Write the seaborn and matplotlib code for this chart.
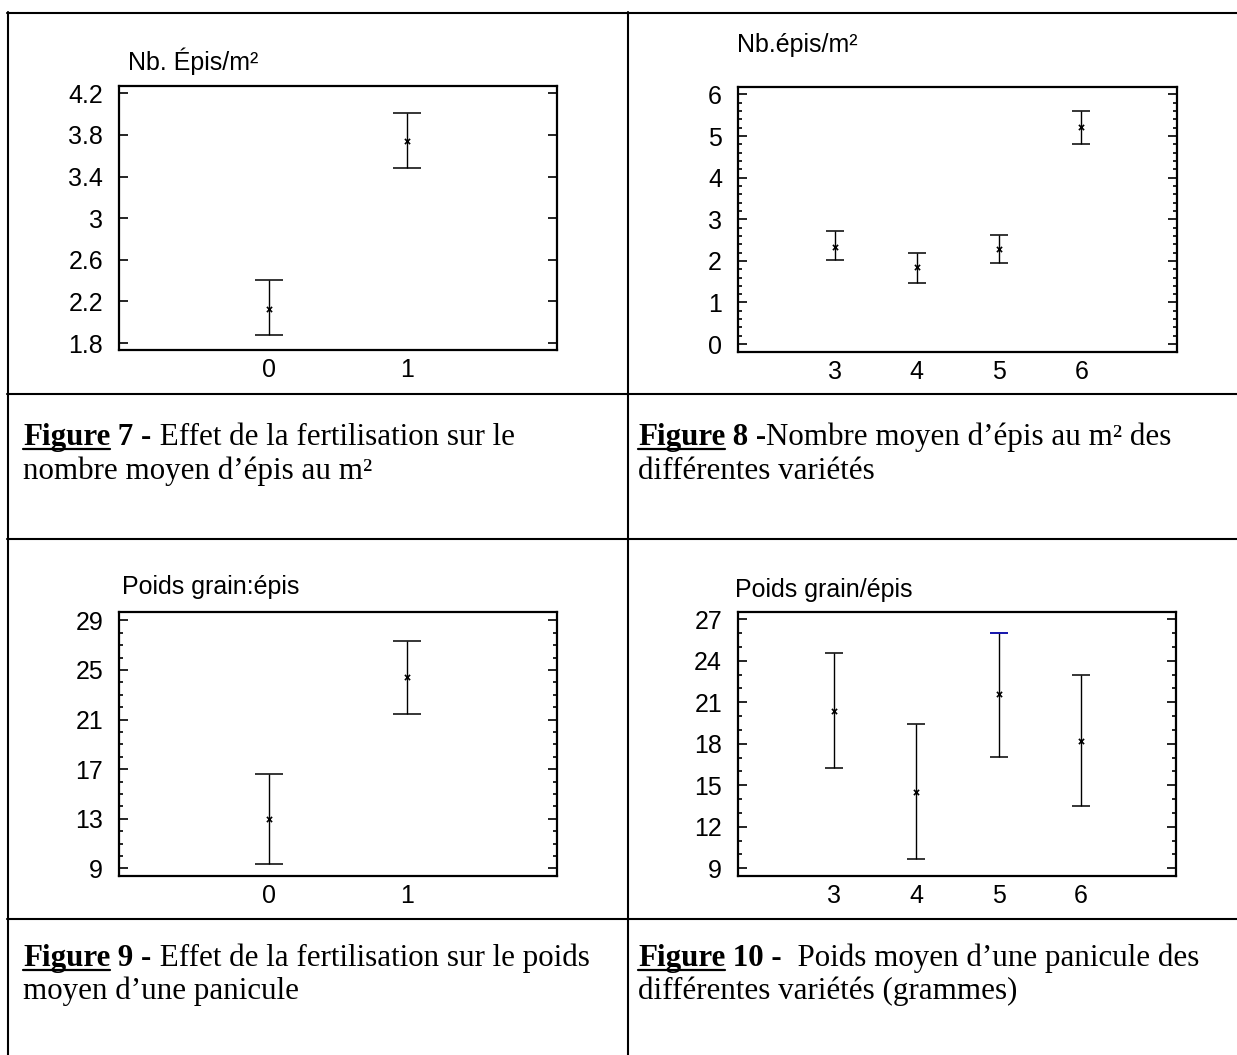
import numpy as np
import pandas as pd
import matplotlib
matplotlib.use("Agg")
import matplotlib.pyplot as plt
import seaborn as sns
from matplotlib.ticker import MultipleLocator
from matplotlib.lines import Line2D

# ---------------- data ----------------
fert_levels = [0, 1]
var_levels = [3, 4, 5, 6]

f7_mean = [2.13, 3.74]
f7_low = [1.88, 3.48]
f7_high = [2.41, 4.01]

f8_mean = [2.34, 1.85, 2.28, 5.21]
f8_low = [2.02, 1.48, 1.94, 4.81]
f8_high = [2.72, 2.20, 2.63, 5.61]

f9_mean = [12.95, 24.44]
f9_low = [9.35, 21.43]
f9_high = [16.57, 27.34]

f10_mean = [20.36, 14.51, 21.57, 18.23]
f10_low = [16.25, 9.68, 17.02, 13.47]
f10_high = [24.58, 19.44, 26.01, 22.97]

f7_yticks = [1.8, 2.2, 2.6, 3.0, 3.4, 3.8, 4.2]
f7_yticklabels = ["1.8", "2.2", "2.6", "3", "3.4", "3.8", "4.2"]
f8_yticks = [0, 1, 2, 3, 4, 5, 6]
f8_yticklabels = ["0", "1", "2", "3", "4", "5", "6"]
f9_yticks = [9, 13, 17, 21, 25, 29]
f9_yticklabels = ["9", "13", "17", "21", "25", "29"]
f10_yticks = [9, 12, 15, 18, 21, 24, 27]
f10_yticklabels = ["9", "12", "15", "18", "21", "24", "27"]

titles = ["Nb. Épis/m²", "Nb.épis/m²", "Poids grain:épis", "Poids grain/épis"]

captions = [
    ([("Figure", True, True), (" 7 -", True, False), (" Effet de la fertilisation sur le", False, False)],
     "nombre moyen d’épis au m²"),
    ([("Figure", True, True), (" 8 -", True, False), ("Nombre moyen d’épis au m² des", False, False)],
     "différentes variétés"),
    ([("Figure", True, True), (" 9 -", True, False), (" Effet de la fertilisation sur le poids", False, False)],
     "moyen d’une panicule"),
    ([("Figure", True, True), (" 10 -", True, False), ("  Poids moyen d’une panicule des", False, False)],
     "différentes variétés (grammes)"),
]

# ---------------- style ----------------
sns.set_theme(style="white")
plt.rcParams["font.family"] = ["Liberation Sans", "DejaVu Sans"]

W, H = 1237, 1055
fig = plt.figure(figsize=(W / 100, H / 100), dpi=100)
fig.patch.set_facecolor("white")

LBL_FS = 18
CAP_FS = 22.3


def rect(l, t, r, b):
    return [l / W, 1 - b / H, (r - l) / W, (b - t) / H]


def fx(x):
    return x / W


def fy(y):
    return 1 - y / H


def panel(rc, x, mean, low, high, xlim, ylim, yticks, yticklabels, minor,
          capsize, title, title_xy, blue_cap=None):
    ax = fig.add_axes(rc)
    df = pd.DataFrame({"x": x, "mean": mean, "low": low, "high": high})
    yerr = np.vstack([df["mean"] - df["low"], df["high"] - df["mean"]])
    ax.errorbar(df["x"], df["mean"], yerr=yerr, fmt="none", ecolor="black",
                elinewidth=1.0, capsize=capsize, capthick=1.1, zorder=2)
    if blue_cap is not None:
        i = blue_cap
        ax.plot([df["x"][i]], [df["high"][i]], marker="_", ms=2 * capsize,
                mew=1.1, color="#1010d0", zorder=3, linestyle="none")
    sns.scatterplot(data=df, x="x", y="mean", ax=ax, marker="x", s=14,
                    color="black", linewidth=1.2, zorder=4, legend=False)
    ax.set_xlim(xlim)
    ax.set_ylim(ylim)
    ax.set_xticks(x)
    ax.set_xticklabels([str(v) for v in x])
    ax.set_yticks(yticks)
    ax.set_yticklabels(yticklabels)
    if minor:
        ax.yaxis.set_minor_locator(MultipleLocator(minor))
    ax.tick_params(axis="y", which="both", direction="in", left=True, right=True,
                   labelsize=LBL_FS, pad=11.5, width=1.2, color="black", labelcolor="black")
    ax.tick_params(axis="y", which="major", length=6.5)
    ax.tick_params(axis="y", which="minor", length=3.2)
    ax.tick_params(axis="x", which="both", length=0, pad=6, labelsize=LBL_FS,
                   labelcolor="black", bottom=False, top=False)
    for s in ax.spines.values():
        s.set_visible(True)
        s.set_linewidth(1.6)
        s.set_color("black")
    ax.set_xlabel("")
    ax.set_ylabel("")
    ax.grid(False)
    fig.text(fx(title_xy[0]), fy(title_xy[1]), title, ha="left", va="center",
             fontsize=LBL_FS, color="black")
    return ax


panel(rect(119, 86, 557, 350), fert_levels, f7_mean, f7_low, f7_high,
      (-1.087, 2.087), (1.733, 4.27), f7_yticks, f7_yticklabels, None, 10,
      titles[0], (128, 61))
panel(rect(738, 87, 1177, 352), var_levels, f8_mean, f8_low, f8_high,
      (1.826, 7.162), (-0.19, 6.18), f8_yticks, f8_yticklabels, 0.2, 6.2,
      titles[1], (737, 45))
panel(rect(119, 612, 557, 876), fert_levels, f9_mean, f9_low, f9_high,
      (-1.087, 2.087), (8.38, 29.67), f9_yticks, f9_yticklabels, 1, 10,
      titles[2], (122, 587))
panel(rect(738, 612, 1176, 876), var_levels, f10_mean, f10_low, f10_high,
      (1.826, 7.162), (8.44, 27.53), f10_yticks, f10_yticklabels, 1, 6.2,
      titles[3], (735, 590), blue_cap=2)

# ---------------- table lines ----------------
lw = 1.5
for (x0, y0, x1, y1) in [(7, 12.7, W, 12.7), (8, 12, 8, H), (627.7, 12, 627.7, H),
                         (7, 394, W, 394), (7, 539, W, 539), (7, 919, W, 919)]:
    fig.add_artist(Line2D([fx(x0), fx(x1)], [fy(y0), fy(y1)], color="black", lw=lw))

# ---------------- captions ----------------
renderer = fig.canvas.get_renderer()
serif = ["Liberation Serif", "DejaVu Serif"]
cap_pos = [(23, 445, 479), (638, 445, 479), (23, 966, 999), (638, 966, 999)]
for (segs, line2), (cx0, yb1, yb2) in zip(captions, cap_pos):
    cx = cx0
    for text, bold, underline in segs:
        t = fig.text(fx(cx), fy(yb1), text, fontsize=CAP_FS,
                     fontweight="bold" if bold else "normal", family=serif,
                     ha="left", va="baseline", color="black")
        w = t.get_window_extent(renderer).width
        if underline:
            fig.add_artist(Line2D([fx(cx), fx(cx + w)], [fy(yb1 + 3.5), fy(yb1 + 3.5)],
                                  color="black", lw=1.6))
        cx += w
    fig.text(fx(cx0), fy(yb2), line2, fontsize=CAP_FS, family=serif,
             ha="left", va="baseline", color="black")

fig.savefig("out.png", dpi=100)
